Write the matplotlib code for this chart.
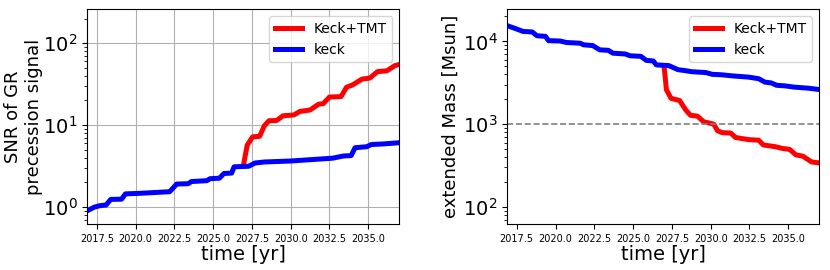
import matplotlib
matplotlib.use("Agg")
import matplotlib.pyplot as plt

# SNR of GR precession signal
snr_keck_t = [2016.88, 2017.35, 2017.7, 2018.1, 2018.4, 2019.1, 2019.35, 2020.2, 2022.2, 2022.65,
              2023.4, 2023.6, 2024.6, 2024.8, 2025.4, 2025.7, 2026.2, 2026.35, 2027.3, 2027.7,
              2028.3, 2030.0, 2032.7, 2033.4, 2033.9, 2034.15, 2034.9, 2035.2, 2036.0, 2037.0]
snr_keck = [0.90, 1.0, 1.04, 1.06, 1.24, 1.25, 1.45, 1.47, 1.54, 1.91,
            1.93, 2.05, 2.1, 2.22, 2.25, 2.57, 2.6, 3.1, 3.15, 3.45,
            3.55, 3.65, 3.95, 4.2, 4.25, 5.3, 5.45, 5.8, 5.9, 6.1]
snr_tmt_t = [2026.95, 2027.2, 2027.55, 2028.0, 2028.3, 2028.6, 2029.1, 2029.5, 2030.2, 2030.6,
             2031.25, 2031.8, 2032.1, 2032.5, 2033.25, 2033.6, 2034.0, 2034.6, 2035.1, 2035.6,
             2036.2, 2036.7, 2037.0]
snr_tmt = [3.2, 5.7, 7.2, 7.3, 9.8, 11.3, 11.4, 13.0, 13.3, 14.7,
           15.3, 18.0, 18.3, 22.0, 22.3, 29.0, 31.0, 36.5, 37.5, 45.0,
           46.0, 53.0, 55.0]

# extended mass limit [Msun]
mass_keck_t = [2016.88, 2017.5, 2017.9, 2018.5, 2018.8, 2019.35, 2019.55, 2020.3, 2020.7, 2021.6,
               2021.8, 2022.4, 2022.85, 2023.4, 2023.7, 2024.5, 2024.8, 2025.5, 2025.85, 2026.3,
               2026.5, 2027.3, 2027.9, 2028.3, 2028.8, 2029.7, 2030.1, 2030.7, 2031.4, 2032.45,
               2033.1, 2033.5, 2033.9, 2034.25, 2034.8, 2035.4, 2036.3, 2037.0]
mass_keck = [15500, 14100, 13200, 13000, 11700, 11500, 10200, 10100, 9700, 9500,
             9100, 8900, 7900, 7800, 7200, 7050, 6700, 6600, 5900, 5800,
             5200, 5100, 4550, 4450, 4300, 4200, 4000, 3950, 3830, 3700,
             3540, 3220, 3150, 2950, 2900, 2800, 2720, 2620]
mass_tmt_t = [2027.0, 2027.15, 2027.45, 2028.0, 2028.4, 2028.7, 2029.15, 2029.55, 2030.2, 2030.45,
              2030.75, 2031.3, 2031.6, 2032.45, 2033.1, 2033.4, 2034.15, 2034.6, 2035.1, 2035.5,
              2035.95, 2036.5, 2037.0]
mass_tmt = [5000, 2600, 2050, 1930, 1480, 1280, 1250, 1070, 1000, 830,
            790, 780, 690, 650, 640, 560, 535, 510, 495, 425,
            410, 350, 340]

xlim = (2016.88, 2037.0)
xticks = [2017.5, 2020.0, 2022.5, 2025.0, 2027.5, 2030.0, 2032.5, 2035.0]

fig = plt.figure(figsize=(8.3, 2.7), dpi=100)

ax1 = fig.add_axes([0.105, 0.17, 0.376, 0.796])
ax1.plot(snr_tmt_t, snr_tmt, color='red', lw=3.6, label='Keck+TMT')
ax1.plot(snr_keck_t, snr_keck, color='blue', lw=3.6, label='keck')
ax1.set_yscale('log')
ax1.set_ylim(0.62, 260)
ax1.set_xlim(*xlim)
ax1.set_xticks(xticks)
ax1.set_xticklabels(['%.1f' % t for t in xticks], fontsize=7)
ax1.tick_params(axis='y', labelsize=14)
ax1.grid(True, which='major', color='#b0b0b0', lw=0.8)
ax1.set_xlabel('time [yr]', fontsize=14, labelpad=1)
ax1.set_ylabel('SNR of GR\nprecession signal', fontsize=13, labelpad=0)
ax1.legend(loc='upper right', fontsize=10)

ax2 = fig.add_axes([0.611, 0.17, 0.376, 0.796])
ax2.plot(mass_tmt_t, mass_tmt, color='red', lw=3.6, label='Keck+TMT')
ax2.plot(mass_keck_t, mass_keck, color='blue', lw=3.6, label='keck')
ax2.axhline(1000, color='gray', ls='--', lw=1.2)
ax2.set_yscale('log')
ax2.set_ylim(62, 24500)
ax2.set_xlim(*xlim)
ax2.set_xticks(xticks)
ax2.set_xticklabels(['%.1f' % t for t in xticks], fontsize=7)
ax2.tick_params(axis='y', labelsize=14)
ax2.set_xlabel('time [yr]', fontsize=14, labelpad=1)
ax2.set_ylabel('extended Mass [Msun]', fontsize=13, labelpad=2)
ax2.legend(loc='upper right', fontsize=10)

fig.savefig('out.png', dpi=100)
